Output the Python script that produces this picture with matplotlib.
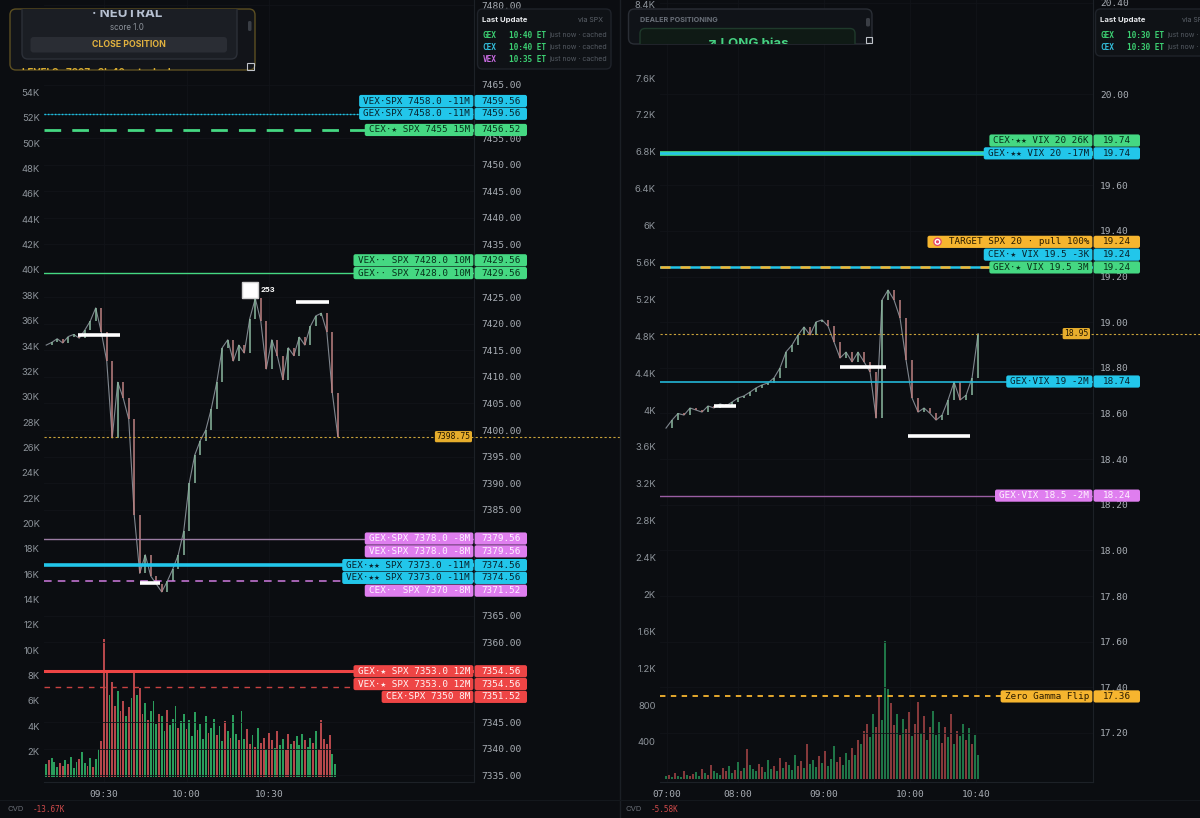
import numpy as np
import matplotlib
matplotlib.use("Agg")
import matplotlib.pyplot as plt
from matplotlib.patches import FancyBboxPatch, Circle, Rectangle
from matplotlib.transforms import Bbox

W, H = 1200, 818
BG = "#0b0d11"
MONO = ["DejaVu Sans Mono", "DejaVu Sans"]
SANS = ["Inter", "DejaVu Sans"]

# ---------------- SPX (left panel) ----------------
# closes every 2 minutes, time in minutes after 09:00
spx_t0, spx_step = 9, 2
spx_close = [
    7416.0, 7416.5, 7417.2, 7416.4, 7417.6, 7418.0, 7417.3, 7418.8, 7420.5, 7423.0,
    7418.5, 7413.0, 7398.5, 7409.0, 7406.0, 7402.0, 7384.0, 7373.0, 7376.5, 7372.5,
    7371.0, 7369.5, 7371.5, 7373.8, 7376.5, 7381.0, 7390.0, 7395.3, 7398.0, 7400.0,
    7404.0, 7409.0, 7415.5, 7417.0, 7413.0, 7416.0, 7414.5, 7421.0, 7424.8, 7420.5,
    7411.5, 7417.0, 7414.0, 7409.5, 7415.5, 7414.0, 7417.5, 7416.0, 7419.5, 7421.5,
    7422.0, 7418.5, 7407.0, 7398.75,
]
spx_last = 7398.75
# 1-minute volume (K), starting 09:09
spx_vol_t0 = 9
spx_vol = [
    1.0, 1.3, 1.5, 1.2, 0.8, 1.1, 0.9, 1.3, 1.0, 1.6, 0.7, 1.2, 1.4, 2.0, 1.1, 0.9, 1.5, 0.8, 1.4, 2.2, 2.8,
    10.9, 8.4, 6.5, 7.5, 5.6, 6.8, 5.2, 6.0, 4.8, 5.5, 6.2,
    8.3, 6.5, 7.0, 5.0, 5.8, 4.5, 5.2, 6.0, 4.2, 5.0,
    4.8, 3.6, 5.3, 4.1, 4.6, 5.6, 3.9, 4.4, 5.0, 3.8,
    4.5, 3.2, 5.1, 3.7, 4.2, 3.0, 4.8, 3.5, 3.9, 4.6,
    3.3, 4.0, 2.8, 4.4, 3.6, 3.1, 4.9, 3.4, 2.9, 5.2,
    3.0, 3.8, 2.6, 3.3, 2.4, 3.9, 2.7, 3.1, 2.2, 3.5,
    2.9, 2.3, 3.6, 2.5, 3.0, 2.1, 3.4, 2.6, 2.8, 3.2,
    2.5, 3.4, 2.9, 2.4, 3.1, 2.7, 3.6, 2.2, 4.5, 3.0,
    2.6, 3.3, 1.8, 1.0,
]
spx_vol_dir = ("grgggrrgrgggrggrgrggr" "rrgrrgrrgrg" "rgrrgrgggr" "ggrgggrggr"
               "gggrgggrgg" "rggrgrggrg" "grrgrgrrgr" "rgrggrrgrg" "ggrggrgrrr" "rrgg")
spx_time_ticks = [30, 60, 90]
spx_time_labels = ["09:30", "10:00", "10:30"]
spx_vol_ticks = list(range(2, 56, 2))
spx_price_ticks = list(range(7335, 7470, 5)) + [7480]

spx_level_names = [
    "VEX·SPX 7458.0 -11M", "GEX·SPX 7458.0 -11M", "CEX·★ SPX 7455 15M",
    "VEX·· SPX 7428.0 10M", "GEX·· SPX 7428.0 10M",
    "GEX·SPX 7378.0 -8M", "VEX·SPX 7378.0 -8M",
    "GEX·★★ SPX 7373.0 -11M", "VEX·★★ SPX 7373.0 -11M", "CEX·· SPX 7370 -8M",
    "GEX·★ SPX 7353.0 12M", "VEX·★ SPX 7353.0 12M", "CEX·SPX 7350 8M",
]
spx_level_prices = [7459.56, 7459.56, 7456.52, 7429.56, 7429.56, 7379.56, 7379.56,
                    7374.56, 7374.56, 7371.52, 7354.56, 7354.56, 7351.52]
spx_level_colors = ["cyan", "cyan", "green", "green", "green", "magenta", "magenta",
                    "cyan", "cyan", "magenta", "red", "red", "red"]
spx_line_prices = [7459.56, 7459.56, 7456.52, 7429.56, 7379.56, 7374.56, 7371.52, 7354.56, 7351.52]
spx_line_kinds = ["cyan_fine", "cyan_dot", "green_dash", "green_thin", "mauve_thin",
                  "cyan_thick", "magenta_dash", "red_thick", "red_dash"]
# white bars: start minute, end minute, price
spx_marks = [(20.5, 35.8, 7417.9), (43.1, 50.4, 7371.2), (99.8, 111.8, 7424.1)]
spx_box_marker = (82.9, 7426.3, "253")

# ---------------- VIX (right panel) ----------------
# x is bar index (3 px bars), closes every 2 bars
vix_step = 2
vix_close = [
    18.536, 18.571, 18.600, 18.593, 18.624, 18.615, 18.606, 18.633, 18.624, 18.642,
    18.633, 18.650, 18.668, 18.677, 18.694, 18.712, 18.725, 18.734, 18.756, 18.800,
    18.870, 18.900, 18.944, 18.979, 18.944, 19.001, 19.010, 18.983, 18.913, 18.843,
    18.869, 18.826, 18.869, 18.826, 18.782, 18.580, 19.097, 19.141, 19.097, 19.018,
    18.834, 18.668, 18.606, 18.624, 18.600, 18.571, 18.593, 18.659, 18.738, 18.659,
    18.680, 18.756, 18.950,
]
vix_last = 18.95
vix_vol = [
    30, 45, 20, 60, 35, 25, 80, 40, 30, 55,
    70, 35, 110, 60, 45, 150, 90, 60, 40, 120,
    80, 140, 60, 100, 180, 90, 120, 320, 150, 110,
    90, 160, 130, 70, 200, 110, 140, 90, 230, 120,
    180, 150, 100, 260, 140, 190, 120, 380, 160, 210,
    130, 250, 170, 300, 140, 220, 360, 180, 240, 150,
    280, 200, 330, 260, 420, 380, 520, 600, 450, 700,
    560, 900, 640, 1500, 980, 820, 580, 700, 480, 650,
    540, 720, 460, 600, 830, 500, 680, 420, 560, 740,
    480, 620, 390, 560, 450, 700, 380, 520, 460, 600,
    420, 550, 380, 480, 260,
]
vix_vol_dir = ("grgrggrgrr" "ggrgrrgggr" "rggrgrgrgg" "grrgggrgrg" "rgggrrgrgg"
               "grgrgggrrg" "ggrgrgrrgg" "rrgggrrgrg" "rrgrrgrgrg" "ggrrgrgrgg" "rgrgg")
vix_time_ticks = [0.3, 24, 52.7, 81.3, 103.3]
vix_time_labels = ["07:00", "08:00", "09:00", "10:00", "10:40"]
vix_vol_ticks = list(range(400, 8000, 400)) + [8400]
vix_price_ticks = list(np.round(np.arange(17.2, 20.01, 0.2), 2)) + [20.4]

vix_level_names = [
    "CEX·★★ VIX 20 26K", "GEX·★★ VIX 20 -17M", "TARGET SPX 20 · pull 100%",
    "CEX·★ VIX 19.5 -3K", "GEX·★ VIX 19.5 3M", "GEX·VIX 19 -2M",
    "GEX·VIX 18.5 -2M", "Zero Gamma Flip",
]
vix_level_prices = [19.74, 19.74, 19.24, 19.24, 19.24, 18.74, 18.24, 17.36]
vix_level_colors = ["green", "cyan", "yellow", "cyan", "green", "cyan", "magenta", "yellow"]
vix_line_prices = [19.74, 19.74, 19.24, 19.24, 18.74, 18.24, 17.36]
vix_line_kinds = ["green_wide", "cyan_mid", "cyan_mid", "yellow_dash", "cyan_thin",
                  "mauve_dim", "yellow_flip"]
vix_marks = [(16, 23.3, 18.633), (58, 73.3, 18.804), (80.7, 101.3, 18.501)]

# ---------------- styles ----------------
BOX = {
    "cyan": ("#22c6ea", "#08222c"),
    "green": ("#45d882", "#07301a"),
    "magenta": ("#df7eef", "#fff4ff"),
    "red": ("#ee4545", "#fff4f4"),
    "yellow": ("#f6b52f", "#2a1b00"),
}
LINE_STYLE = {
    "cyan_fine": dict(color="#22c6ea", lw=0.8, alpha=0.5),
    "cyan_dot": dict(color="#22c6ea", lw=1.0, ls=(0, (1, 1.5))),
    "green_dash": dict(color="#45d882", lw=2.0, ls=(0, (6, 4))),
    "green_thin": dict(color="#45d882", lw=1.0),
    "mauve_thin": dict(color="#9b7ca3", lw=1.0),
    "cyan_thick": dict(color="#22c6ea", lw=2.6),
    "magenta_dash": dict(color="#cf7be0", lw=1.1, ls=(0, (5, 4))),
    "red_thick": dict(color="#ee4545", lw=2.2),
    "red_dash": dict(color="#c84242", lw=1.0, ls=(0, (4, 4))),
    "green_wide": dict(color="#45d882", lw=3.4),
    "cyan_mid": dict(color="#22c6ea", lw=1.8),
    "yellow_dash": dict(color="#f6b52f", lw=1.8, ls=(0, (4, 4))),
    "cyan_thin": dict(color="#22b6d6", lw=1.2),
    "mauve_dim": dict(color="#9a5ea3", lw=1.0),
    "yellow_flip": dict(color="#f6b52f", lw=1.3, ls=(0, (3, 3))),
}
TICK_C = "#a9aeb5"
VOL_C = "#8d939a"
SPINE_C = "#1d2127"
GRID_C = "#111419"

fig = plt.figure(figsize=(W / 100, H / 100), dpi=100, facecolor=BG)


def make_panel(x0, x1, xlim, vol_ylim, price_ylim, vol_ticks, vol_labels,
               time_ticks, time_labels):
    axv = fig.add_axes([x0 / W, 1 - 782 / H, (x1 - x0) / W, 782 / H])
    axv.set_facecolor(BG)
    axp = axv.twinx()
    axv.set_xlim(*xlim)
    axv.set_ylim(*vol_ylim)
    axp.set_ylim(*price_ylim)
    for a in (axv, axp):
        for s in a.spines.values():
            s.set_visible(False)
    axv.spines["bottom"].set_visible(True)
    axv.spines["bottom"].set_color(SPINE_C)
    axp.spines["right"].set_visible(True)
    axp.spines["right"].set_color(SPINE_C)
    axv.set_yticks(vol_ticks, vol_labels, fontfamily=SANS)
    axv.tick_params(axis="y", length=0, pad=3, labelsize=6.8, colors=VOL_C)
    axv.set_xticks(time_ticks, time_labels, fontfamily=MONO)
    axv.tick_params(axis="x", length=0, pad=6, labelsize=6.8, colors=TICK_C)
    axp.tick_params(axis="y", length=0, pad=5, labelsize=6.8, colors=TICK_C)
    axp.grid(axis="y", color=GRID_C, lw=0.6)
    axv.grid(axis="x", color=GRID_C, lw=0.6)
    return axv, axp


def draw_series(axv, axp, t_close, close, t_vol, vol, vol_dir, up_c, dn_c, vup, vdn):
    c = np.asarray(close, float)
    o = np.r_[c[0], c[:-1]]
    up = c >= o
    axv.bar(t_vol, vol, width=0.7, color=[vup if d == "g" else vdn for d in vol_dir],
            zorder=2, linewidth=0)
    axp.plot(t_close, c, color="#80878f", lw=0.8, zorder=3)
    axp.vlines(t_close, np.minimum(o, c), np.maximum(o, c),
               colors=np.where(up, up_c, dn_c), lw=1.1, zorder=4)


# left panel
spx_x0, spx_x1 = 44, 474
axv_l, axp_l = make_panel(spx_x0, spx_x1, (8.2, 164.5), (-0.4, 61.3), (7333.7, 7481.0),
                          spx_vol_ticks, [f"{v}K" for v in spx_vol_ticks],
                          spx_time_ticks, spx_time_labels)
draw_series(axv_l, axp_l, spx_t0 + spx_step * np.arange(len(spx_close)), spx_close,
            spx_vol_t0 + np.arange(len(spx_vol)), spx_vol, spx_vol_dir,
            "#8cb9a0", "#bd8282", "#2a9d5c", "#b5474b")
for p, k in zip(spx_line_prices, spx_line_kinds):
    axp_l.axhline(p, zorder=5, **LINE_STYLE[k])
for a, b, p in spx_marks:
    axp_l.hlines(p, a, b, color="white", lw=2.6, zorder=7)
mx, my, mtxt = spx_box_marker
axp_l.plot(mx, my, marker="s", ms=11, mfc="white", mec="#cfcfcf", zorder=8)
axp_l.annotate(mtxt, (mx, my), xytext=(8, 0), textcoords="offset points", va="center",
               fontsize=5.5, fontweight="bold", color="white", family=SANS, zorder=8)
axp_l.plot([0, (620 - spx_x0) / (spx_x1 - spx_x0)], [spx_last, spx_last],
           transform=axp_l.get_yaxis_transform(), clip_on=False,
           color="#c9a23a", lw=0.8, ls=(0, (2, 2)), zorder=6)

# right panel
vix_x0, vix_x1 = 660, 1093
axv_r, axp_r = make_panel(vix_x0, vix_x1, (-2, 142.3), (-34, 8447), (16.985, 20.412),
                          vix_vol_ticks,
                          [f"{v / 1000:g}K" if v >= 1000 else f"{v}" for v in vix_vol_ticks],
                          vix_time_ticks, vix_time_labels)
draw_series(axv_r, axp_r, vix_step * np.arange(len(vix_close)), vix_close,
            np.arange(len(vix_vol)), vix_vol, vix_vol_dir,
            "#8cb9a0", "#bd8282", "#1f7547", "#86393b")
for p, k in zip(vix_line_prices, vix_line_kinds):
    axp_r.axhline(p, zorder=5, **LINE_STYLE[k])
for a, b, p in vix_marks:
    axp_r.hlines(p, a, b, color="white", lw=2.6, zorder=7)
axp_r.plot([0, (W - vix_x0) / (vix_x1 - vix_x0)], [vix_last, vix_last],
           transform=axp_r.get_yaxis_transform(), clip_on=False,
           color="#c9a23a", lw=0.8, ls=(0, (2, 2)), zorder=6)

# ---------------- overlay in pixel coordinates ----------------
ov = fig.add_axes([0, 0, 1, 1], zorder=20)
ov.set_xlim(0, W)
ov.set_ylim(H, 0)
ov.axis("off")
ov.patch.set_alpha(0)
rend = fig.canvas.get_renderer()


def to_px(ax, price):
    return H - ax.transData.transform((ax.get_xlim()[0], price))[1]


def rbox(x0, y0, x1, y1, fc, ec="none", r=5, lw=1.0, z=2, clip=None):
    p = FancyBboxPatch((x0, y0), x1 - x0, y1 - y0, boxstyle=f"round,pad=0,rounding_size={r}",
                       fc=fc, ec=ec, lw=lw, zorder=z)
    ov.add_patch(p)
    if clip is not None:
        p.set_clip_path(clip)
    return p


def clip_text(t, x0, y0, x1, y1):
    # clip box in display pixels (origin bottom-left)
    t.set_clip_box(Bbox.from_extents(x0, H - y1, x1, H - y0))
    t.set_clip_on(True)


def level_labels(ax, names, prices, kinds, current, edge, val_w, ticks):
    h = 12.8
    ys = [to_px(ax, p) for p in prices]
    pos = list(ys)
    above = [i for i, p in enumerate(prices) if p > current]
    below = [i for i, p in enumerate(prices) if p <= current]
    prev = None
    for i in reversed(above):
        pos[i] = ys[i] if prev is None else min(ys[i], prev - h)
        prev = pos[i]
    prev = None
    for i in below:
        pos[i] = ys[i] if prev is None else max(ys[i], prev + h)
        prev = pos[i]
    for name, p, k, y in zip(names, prices, kinds, pos):
        fc, tc = BOX[k]
        icon = name.startswith("TARGET")
        txt = ("   " + name) if icon else name
        t = ov.text(edge - 4, y, txt, ha="right", va="center", fontsize=6.7,
                    family=MONO, color=tc, zorder=31)
        bb = t.get_window_extent(rend)
        left = bb.x0 - 4
        rbox(left, y - h / 2 + 0.3, edge - 0.6, y + h / 2 - 0.3, fc, r=2, z=30)
        rbox(edge + 0.6, y - h / 2 + 0.3, edge + val_w, y + h / 2 - 0.3, fc, r=2, z=30)
        ov.text(edge + val_w / 2 + 0.5, y, f"{p:.2f}", ha="center", va="center",
                fontsize=6.7, family=MONO, color=tc, zorder=31)
        if icon:
            cx = bb.x0 + 6
            for rad, col in ((4.3, "#e5486a"), (3.0, "#ffffff"), (1.6, "#e5486a")):
                ov.add_patch(Circle((cx, y), rad, fc=col, ec="none", zorder=32))
    # axis price labels hidden behind the value boxes
    keep = [tk for tk in ticks if min(abs(to_px(ax, tk) - y) for y in pos) > 8]
    ax.set_yticks(keep, [f"{tk:.2f}" for tk in keep], fontfamily=MONO)


def price_tag(ax, price, right):
    y = to_px(ax, price)
    t = ov.text(right - 1.5, y, f"{price:.2f}", ha="right", va="center", fontsize=5.8,
                family=MONO, color="#221600", zorder=31)
    bb = t.get_window_extent(rend)
    rbox(bb.x0 - 1.5, y - 5.6, right, y + 5.6, "#e6ad2c", r=1.5, z=30)


level_labels(axp_l, spx_level_names, spx_level_prices, spx_level_colors, spx_last, 474, 53,
             spx_price_ticks)
level_labels(axp_r, vix_level_names, vix_level_prices, vix_level_colors, vix_last, 1093, 47,
             vix_price_ticks)
price_tag(axp_l, spx_last, 472)
price_tag(axp_r, vix_last, 1090)

# panel separators
ov.plot([620, 620], [0, H], color="#1b1f25", lw=1, zorder=1)
ov.plot([0, W], [800, 800], color="#14181d", lw=0.8, zorder=1)

# CVD footers
ov.text(8, 809, "CVD", fontsize=5.5, family=SANS, color="#6b7078", va="center")
ov.text(33, 809, "-13.67K", fontsize=5.5, family=MONO, color="#d24b4b", va="center")
ov.text(626, 809, "CVD", fontsize=5.5, family=SANS, color="#6b7078", va="center")
ov.text(651, 809, "-5.58K", fontsize=5.5, family=MONO, color="#d24b4b", va="center")

# top-left status card
outer = rbox(10, 9, 255, 70, "#121419", "#5c4f22", r=6, z=40)
rbox(22, -12, 237, 59, "#1b1e24", "#2c3038", r=6, z=41, clip=outer)
t = ov.text(127, 14, "· NEUTRAL", ha="center", va="center", fontsize=9.5,
            fontweight="bold", family=SANS, color="#b7c1d1", zorder=42)
clip_text(t, 10, 9.5, 255, 70)
ov.text(127, 27.5, "score 1.0", ha="center", va="center", fontsize=5.8,
        family=SANS, color="#8c929a", zorder=42)
rbox(30.5, 37, 227, 52.5, "#2a2d34", r=3, z=42)
ov.text(128.5, 44.8, "CLOSE POSITION", ha="center", va="center", fontsize=6.3,
        fontweight="bold", family=SANS, color="#e2b23f", zorder=43)
t = ov.text(22, 73.5, "LEVELS · 7397 · SL 40 · stacked", ha="left", va="center",
            fontsize=7, fontweight="bold", family=SANS, color="#d6aa30", zorder=42)
clip_text(t, 10, 9, 255, 69.5)
rbox(248, 21, 251.5, 31, "#3a3e45", r=1.5, z=42)
ov.add_patch(Rectangle((247, 63), 6.5, 6.5, fc="none", ec="#bfc3c9", lw=0.8, zorder=43))


def last_update(x0, y0, x1, y1, rows, via):
    rbox(x0, y0, x1, y1, "#0f1216", "#1f232a", r=5, z=40)
    ov.text(x0 + 5, y0 + 11, "Last Update", fontsize=5.6, fontweight="bold",
            family=SANS, color="#e6e8eb", va="center", zorder=41)
    if via:
        ov.text(x1 - 8, y0 + 11, via, fontsize=5, family=SANS, color="#5d636b",
                va="center", ha="right", zorder=41)
    for j, (name, col, tm) in enumerate(rows):
        yy = y0 + 26.5 + 12 * j
        ov.text(x0 + 5, yy, name, fontsize=5.6, fontweight="bold", family=MONO,
                color=col, va="center", zorder=41)
        ov.text(x0 + 31.5, yy, tm, fontsize=5.6, fontweight="bold", family=MONO,
                color="#3ccf72", va="center", zorder=41)
        ov.text(x0 + 71.5, yy, "just now · cached", fontsize=5, family=SANS,
                color="#545a62", va="center", zorder=41)


last_update(477.5, 9, 611, 69, [("GEX", "#3ccf72", "10:40 ET"), ("CEX", "#33bedb", "10:40 ET"),
                                ("VEX", "#c76be0", "10:35 ET")], "via SPX")
last_update(1095.5, 9, 1215, 56, [("GEX", "#3ccf72", "10:30 ET"), ("CEX", "#33bedb", "10:30 ET")],
            "via SPX")

# dealer positioning card
outer2 = rbox(628.5, 9, 872, 44, "#101318", "#2a2e35", r=6, z=40)
ov.text(639.5, 20, "DEALER POSITIONING", fontsize=5.2, fontweight="bold", family=SANS,
        color="#6a7079", va="center", zorder=41)
rbox(640, 28.5, 855, 70, "#0f1a15", "#1f3a2b", r=5, z=41, clip=outer2)
t = ov.text(747.5, 43.5, "↗ LONG bias", ha="center", va="center", fontsize=9.5,
            fontweight="bold", family=SANS, color="#46d283", zorder=42)
clip_text(t, 628, 9, 872, 43.5)
rbox(866, 18, 870, 26.5, "#3a3e45", r=1.5, z=42)
ov.add_patch(Rectangle((865.5, 37), 6, 6, fc="none", ec="#bfc3c9", lw=0.8, zorder=43))

fig.savefig("out.png", dpi=100, facecolor=BG)
